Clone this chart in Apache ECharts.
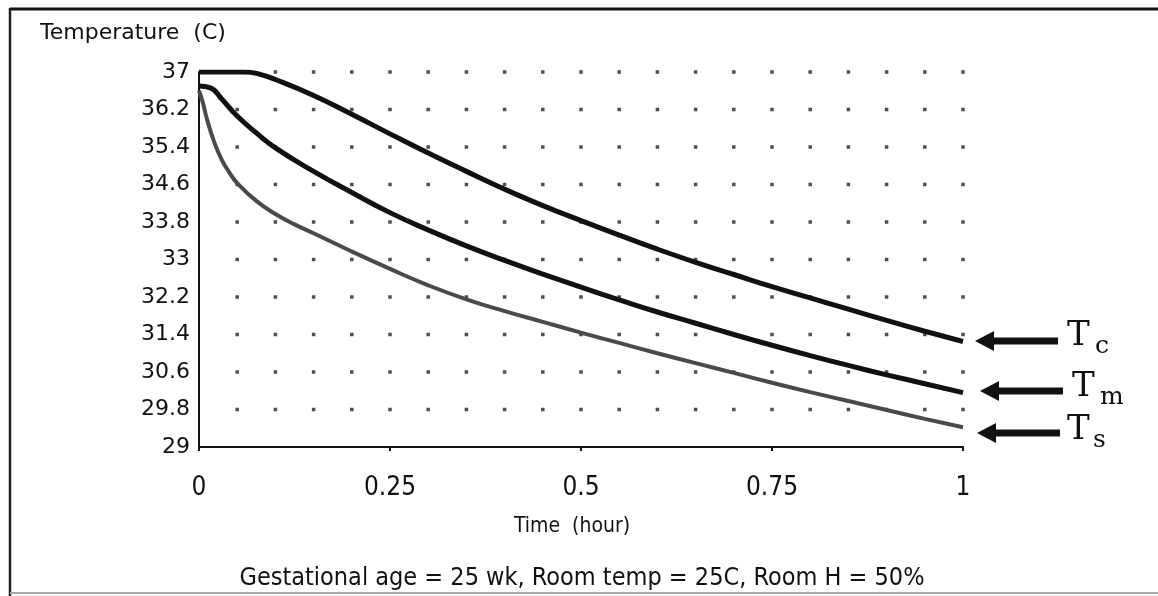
<!DOCTYPE html>
<html>
<head>
<meta charset="utf-8">
<script src="https://cdn.jsdelivr.net/npm/echarts@6/dist/echarts.min.js"></script>
<style>
    html, body { margin: 0; padding: 0; background: #fff; }
    #chart { width: 1158px; height: 596px; }
</style>
</head>
<body>
<div id="chart"></div>
<script>
// 数据：时间(小时) 与 温度(C)
const coreTemp = [
    [0, 37], [0.06, 37], [0.08, 36.95], [0.1, 36.84], [0.15, 36.5], [0.2, 36.1],
    [0.25, 35.68], [0.3, 35.27], [0.35, 34.88], [0.4, 34.5], [0.45, 34.15], [0.5, 33.83],
    [0.55, 33.52], [0.6, 33.22], [0.65, 32.94], [0.7, 32.68], [0.75, 32.42], [0.8, 32.18],
    [0.85, 31.94], [0.9, 31.7], [0.95, 31.47], [1, 31.25]
];
const meanTemp = [
    [0, 36.7], [0.015, 36.66], [0.03, 36.42], [0.05, 36.06], [0.075, 35.7], [0.1, 35.38],
    [0.15, 34.88], [0.2, 34.43], [0.25, 34.0], [0.3, 33.63], [0.35, 33.29], [0.4, 32.98],
    [0.45, 32.69], [0.5, 32.41], [0.55, 32.14], [0.6, 31.88], [0.65, 31.64], [0.7, 31.4],
    [0.75, 31.17], [0.8, 30.95], [0.85, 30.74], [0.9, 30.54], [0.95, 30.35], [1, 30.16]
];
const skinTemp = [
    [0, 36.6], [0.005, 36.35], [0.01, 36.02], [0.02, 35.5], [0.03, 35.12], [0.04, 34.85],
    [0.05, 34.63], [0.075, 34.25], [0.1, 33.97], [0.125, 33.75], [0.15, 33.56], [0.2, 33.17],
    [0.25, 32.8], [0.3, 32.45], [0.35, 32.15], [0.4, 31.9], [0.45, 31.67], [0.5, 31.44],
    [0.55, 31.22], [0.6, 31.0], [0.65, 30.79], [0.7, 30.58], [0.75, 30.37], [0.8, 30.17],
    [0.85, 29.98], [0.9, 29.79], [0.95, 29.6], [1, 29.42]
];

// 点状网格的位置
const dotXs = [0.05, 0.1, 0.15, 0.2, 0.25, 0.3, 0.35, 0.4, 0.45, 0.5,
               0.55, 0.6, 0.65, 0.7, 0.75, 0.8, 0.85, 0.9, 0.95, 1];
const dotYs = [29.8, 30.6, 31.4, 32.2, 33, 33.8, 34.6, 35.4, 36.2, 37];

const dots = [];
dotXs.forEach(x => dotYs.forEach(y => dots.push([x, y])));

const sansFont = '"DejaVu Sans", sans-serif';
const condFont = '"DejaVu Sans Condensed", "DejaVu Sans", sans-serif';
const serifFont = '"DejaVu Serif", serif';

const chart = echarts.init(document.getElementById('chart'));

// 右侧箭头和标注
function arrow(tipX, y, tailX) {
    return [
        { type: 'polygon', shape: { points: [[tipX, y], [tipX + 19, y - 10], [tipX + 19, y + 10]] },
          style: { fill: '#111' } },
        { type: 'rect', shape: { x: tipX + 15, y: y - 3.5, width: tailX - tipX - 15, height: 7 },
          style: { fill: '#111' } }
    ];
}
function label(x, y, sub, subDx, subDy) {
    return [
        { type: 'text', x: x, y: y, style: { text: 'T', font: '34px ' + serifFont, fill: '#111',
          textVerticalAlign: 'middle' } },
        { type: 'text', x: x + subDx, y: y + subDy, style: { text: sub, font: '25px ' + serifFont,
          fill: '#111', textVerticalAlign: 'middle' } }
    ];
}

const lineCommon = { type: 'line', showSymbol: false, smooth: 0.5 };

const option = {
    backgroundColor: '#fff',
    animation: false,
    grid: { left: 199, right: 195, top: 72, bottom: 149 },
    xAxis: {
        type: 'value', min: 0, max: 1, interval: 0.25,
        axisLine: { lineStyle: { color: '#111', width: 2 } },
        axisTick: { show: true, length: 4, lineStyle: { color: '#111', width: 2 } },
        axisLabel: { color: '#111', fontSize: 26, fontFamily: condFont, margin: 28,
                     formatter: v => String(+v.toFixed(2)) },
        splitLine: { show: false }
    },
    yAxis: {
        type: 'value', min: 29, max: 37, interval: 0.8,
        axisLine: { show: true, lineStyle: { color: '#111', width: 2 } },
        axisTick: { show: false },
        axisLabel: { color: '#111', fontSize: 22, fontFamily: sansFont, margin: 9,
                     formatter: v => String(+v.toFixed(1)) },
        splitLine: { show: false }
    },
    series: [
        { type: 'scatter', data: dots, symbol: 'rect', symbolSize: 3.5, silent: true,
          itemStyle: { color: '#222' }, z: 1 },
        Object.assign({ name: 'Tc', data: coreTemp, lineStyle: { color: '#111', width: 5 }, z: 3 }, lineCommon),
        Object.assign({ name: 'Tm', data: meanTemp, lineStyle: { color: '#111', width: 5 }, z: 3 }, lineCommon),
        Object.assign({ name: 'Ts', data: skinTemp, lineStyle: { color: '#4a4a4a', width: 4 }, z: 2 }, lineCommon)
    ],
    graphic: [
        // 外框
        { type: 'line', shape: { x1: 10, y1: 9, x2: 1158, y2: 9 }, style: { stroke: '#111', lineWidth: 3 } },
        { type: 'line', shape: { x1: 10, y1: 8, x2: 10, y2: 596 }, style: { stroke: '#222', lineWidth: 2.5 } },
        { type: 'line', shape: { x1: 10, y1: 593, x2: 1158, y2: 593 }, style: { stroke: '#aaa', lineWidth: 2 } },
        { type: 'text', x: 40, y: 33, style: { text: 'Temperature  (C)', font: '22px ' + sansFont, fill: '#111',
          textVerticalAlign: 'middle' } },
        { type: 'text', x: 572, y: 527, style: { text: 'Time  (hour)', font: '21px ' + condFont, fill: '#111',
          textAlign: 'center', textVerticalAlign: 'middle' } },
        { type: 'text', x: 582, y: 578, style: { text: 'Gestational age = 25 wk, Room temp = 25C, Room H = 50%',
          font: '25px ' + condFont, fill: '#111', textAlign: 'center', textVerticalAlign: 'middle' } },
        ...arrow(975, 341, 1058),
        ...arrow(980, 391, 1063),
        ...arrow(977, 433, 1060),
        ...label(1067, 336, 'c', 28, 10),
        ...label(1072, 387, 'm', 28, 10),
        ...label(1067, 430, 's', 26, 10)
    ]
};

chart.setOption(option);
</script>
</body>
</html>
